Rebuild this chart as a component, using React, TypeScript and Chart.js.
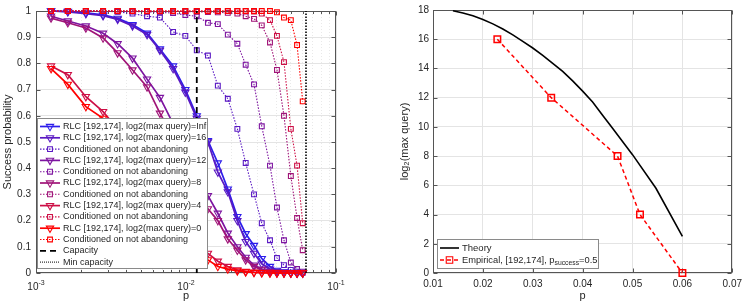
import React, { useEffect, useRef } from 'react';
import { Chart, registerables } from 'chart.js';

Chart.register(...registerables);

// ---------------- Left panel data ----------------
const P_GRID = [0.00126, 0.00163, 0.00215, 0.0028, 0.0035, 0.0044, 0.0055, 0.0067, 0.0082, 0.0099, 0.0118, 0.014, 0.0163, 0.019, 0.022, 0.025, 0.0284, 0.032, 0.0363, 0.0404, 0.045, 0.05, 0.055, 0.06];

const RLC_INF = [1.0, 0.998, 0.993, 0.985, 0.972, 0.948, 0.915, 0.855, 0.79, 0.7, 0.6, 0.505, 0.42, 0.32, 0.215, 0.15, 0.105, 0.055, 0.025, 0.01, 0.004, 0.002, 0.001, 0];
const RLC_16 = [1.0, 0.997, 0.99, 0.982, 0.968, 0.943, 0.91, 0.85, 0.78, 0.69, 0.59, 0.5, 0.385, 0.31, 0.2, 0.12, 0.075, 0.035, 0.015, 0.006, 0.003, 0.001, 0, 0];
const COND_16 = [1.0, 1.0, 1.0, 0.999, 0.997, 0.99, 0.98, 0.975, 0.92, 0.905, 0.85, 0.83, 0.715, 0.665, 0.55, 0.42, 0.3, 0.19, 0.125, 0.057, 0.03, 0.012, 0.005, 0.001];
const RLC_12 = [0.98, 0.962, 0.943, 0.915, 0.875, 0.82, 0.74, 0.67, 0.57, 0.475, 0.38, 0.295, 0.228, 0.152, 0.1, 0.06, 0.03, 0.015, 0.006, 0.002, 0.001, 0, 0, 0];
const COND_12 = [1.0, 1.0, 1.0, 1.0, 0.999, 0.998, 0.997, 0.995, 0.992, 0.985, 0.98, 0.955, 0.95, 0.91, 0.875, 0.795, 0.72, 0.56, 0.41, 0.25, 0.125, 0.04, 0.015, 0.005];
const RLC_8 = [0.973, 0.955, 0.935, 0.897, 0.84, 0.775, 0.71, 0.61, 0.52, 0.42, 0.33, 0.245, 0.2, 0.13, 0.087, 0.05, 0.025, 0.012, 0.005, 0.002, 0.001, 0, 0, 0];
const COND_8 = [1.0, 1.0, 1.0, 1.0, 1.0, 1.0, 0.999, 0.999, 0.998, 0.998, 0.997, 0.996, 0.995, 0.993, 0.99, 0.98, 0.97, 0.945, 0.88, 0.775, 0.6, 0.37, 0.21, 0.087];
const RLC_4 = [0.79, 0.757, 0.673, 0.616, 0.55, 0.47, 0.39, 0.31, 0.23, 0.17, 0.115, 0.075, 0.045, 0.025, 0.012, 0.006, 0.003, 0.001, 0, 0, 0, 0, 0, 0];
const COND_4 = [1.0, 1.0, 1.0, 1.0, 1.0, 1.0, 1.0, 1.0, 1.0, 1.0, 1.0, 1.0, 1.0, 1.0, 1.0, 1.0, 0.998, 0.99, 0.965, 0.905, 0.805, 0.55, 0.41, 0.19];
const RLC_0 = [0.78, 0.72, 0.635, 0.59, 0.52, 0.44, 0.36, 0.28, 0.2, 0.14, 0.09, 0.05, 0.025, 0.015, 0.008, 0.004, 0.002, 0.001, 0, 0, 0, 0, 0, 0];
const COND_0 = [1.0, 1.0, 1.0, 1.0, 1.0, 1.0, 1.0, 1.0, 1.0, 1.0, 1.0, 1.0, 1.0, 1.0, 1.0, 1.0, 1.0, 1.0, 1.0, 0.995, 0.975, 0.965, 0.87, 0.655];

const CAPACITY = 0.0118;
const MIN_CAPACITY = 0.0631;

const LEFT_LOG_TICKS = [0.001, 0.002, 0.003, 0.004, 0.005, 0.006, 0.007, 0.008, 0.009, 0.01, 0.02, 0.03, 0.04, 0.05, 0.06, 0.07, 0.08, 0.09, 0.1];
const LEFT_MAJOR_TICKS = [0.001, 0.01, 0.1];
const LEFT_MAJOR_EXPONENTS = ['-3', '-2', '-1'];

// ---------------- Right panel data ----------------
const THEORY_P = [0.014, 0.016, 0.018, 0.02, 0.022, 0.024, 0.026, 0.028, 0.03, 0.032, 0.034, 0.036, 0.038, 0.04, 0.042, 0.044, 0.046, 0.048, 0.05, 0.0547, 0.06];
const THEORY_Q = [17.95, 17.8, 17.6, 17.35, 17.05, 16.7, 16.3, 15.85, 15.4, 14.9, 14.35, 13.8, 13.15, 12.45, 11.7, 10.8, 9.9, 9.0, 8.1, 5.8, 2.5];
const EMP_P = [0.0229, 0.0337, 0.047, 0.0515, 0.06];
const EMP_Q = [16, 12, 8, 4, 0];

// ---------------- Styles ----------------
const FONT = '"Liberation Sans", Arial, Helvetica, sans-serif';
const TEXT = '#262626';
const AXIS = '#555555';
const GRID = '#e4e4e4';

const C_INF = 'rgb(45,30,235)';
const C_16 = 'rgb(90,25,195)';
const C_12 = 'rgb(125,20,160)';
const C_8 = 'rgb(160,20,120)';
const C_4 = 'rgb(205,15,70)';
const C_0 = 'rgb(255,0,0)';

const SERIES = [
  { label: 'RLC [192,174], log2(max query)=Inf', values: RLC_INF, color: C_INF, kind: 'rlc' },
  { label: 'RLC [192,174], log2(max query)=16', values: RLC_16, color: C_16, kind: 'rlc' },
  { label: 'Conditioned on not abandoning', values: COND_16, color: C_16, kind: 'cond' },
  { label: 'RLC [192,174], log2(max query)=12', values: RLC_12, color: C_12, kind: 'rlc' },
  { label: 'Conditioned on not abandoning', values: COND_12, color: C_12, kind: 'cond' },
  { label: 'RLC [192,174], log2(max query)=8', values: RLC_8, color: C_8, kind: 'rlc' },
  { label: 'Conditioned on not abandoning', values: COND_8, color: C_8, kind: 'cond' },
  { label: 'RLC [192,174], log2(max query)=4', values: RLC_4, color: C_4, kind: 'rlc' },
  { label: 'Conditioned on not abandoning', values: COND_4, color: C_4, kind: 'cond' },
  { label: 'RLC [192,174], log2(max query)=0', values: RLC_0, color: C_0, kind: 'rlc' },
  { label: 'Conditioned on not abandoning', values: COND_0, color: C_0, kind: 'cond' },
];

const RLC_STYLE = { width: 1.7, dash: [] as number[], marker: 'tri', r: 4.2 };
const COND_STYLE = { width: 1.1, dash: [1.5, 1.5], marker: 'sq', r: 3.4 };
const CAP_STYLE = { width: 1.8, dash: [6, 4] };
const MINCAP_STYLE = { width: 1.6, dash: [1.5, 1.5] };

function isMajor(v: number) {
  if (!(v > 0)) return false;
  const l = Math.log10(v);
  return Math.abs(l - Math.round(l)) < 1e-6;
}

function drawMarker(ctx: CanvasRenderingContext2D, kind: string, x: number, y: number, r: number, color: string, lw: number) {
  ctx.save();
  ctx.strokeStyle = color;
  ctx.lineWidth = lw;
  ctx.setLineDash([]);
  ctx.beginPath();
  if (kind === 'tri') {
    const s = Math.sin(Math.PI / 3) * r;
    ctx.moveTo(x, y + r);
    ctx.lineTo(x - s, y - r / 2);
    ctx.lineTo(x + s, y - r / 2);
    ctx.closePath();
  } else {
    const h = r * Math.SQRT1_2;
    ctx.rect(x - h, y - h, 2 * h, 2 * h);
  }
  ctx.stroke();
  ctx.restore();
}

type Part = { t: string; size: number; dy: number };
type LegendRow = { parts: Part[]; color: string; width: number; dash: number[]; marker?: string; r?: number };

function drawLegend(ctx: CanvasRenderingContext2D, box: { x: number; y: number; w: number; h: number }, rows: LegendRow[], opts: { y0: number; step: number; l0: number; l1: number; tx: number }) {
  ctx.save();
  ctx.fillStyle = '#ffffff';
  ctx.fillRect(box.x, box.y, box.w, box.h);
  ctx.strokeStyle = '#8a8a8a';
  ctx.lineWidth = 1;
  ctx.setLineDash([]);
  ctx.strokeRect(box.x + 0.5, box.y + 0.5, box.w - 1, box.h - 1);
  rows.forEach((row, i) => {
    const y = opts.y0 + i * opts.step;
    ctx.save();
    ctx.strokeStyle = row.color;
    ctx.lineWidth = row.width;
    ctx.setLineDash(row.dash);
    ctx.beginPath();
    ctx.moveTo(opts.l0, y);
    ctx.lineTo(opts.l1, y);
    ctx.stroke();
    ctx.restore();
    if (row.marker) drawMarker(ctx, row.marker, (opts.l0 + opts.l1) / 2, y, row.r || 3.5, row.color, 1.1);
    let x = opts.tx;
    ctx.fillStyle = TEXT;
    ctx.textAlign = 'left';
    ctx.textBaseline = 'middle';
    row.parts.forEach((p) => {
      ctx.font = `${p.size}px ${FONT}`;
      ctx.fillText(p.t, x, y + p.dy);
      x += ctx.measureText(p.t).width;
    });
  });
  ctx.restore();
}

const axesFramePlugin = {
  id: 'axesFrame',
  beforeDatasetsDraw(chart: any) {
    const { ctx, chartArea: a } = chart;
    const xs = chart.scales.x;
    const ys = chart.scales.y;
    const L = Math.round(a.left) + 0.5;
    const R = Math.round(a.right) - 0.5;
    const T = Math.round(a.top) + 0.5;
    const B = Math.round(a.bottom) - 0.5;
    ctx.save();
    ctx.strokeStyle = AXIS;
    ctx.lineWidth = 1;
    ctx.setLineDash([]);
    ctx.beginPath();
    xs.ticks.forEach((t: any) => {
      const px = Math.round(xs.getPixelForValue(t.value)) + 0.5;
      const len = xs.type === 'logarithmic' && !isMajor(t.value) ? 2.5 : 4;
      ctx.moveTo(px, B);
      ctx.lineTo(px, B - len);
      ctx.moveTo(px, T);
      ctx.lineTo(px, T + len);
    });
    ys.ticks.forEach((t: any) => {
      const py = Math.round(ys.getPixelForValue(t.value)) + 0.5;
      ctx.moveTo(L, py);
      ctx.lineTo(L + 4, py);
      ctx.moveTo(R, py);
      ctx.lineTo(R - 4, py);
    });
    ctx.stroke();
    ctx.strokeRect(L, T, R - L, B - T);
    ctx.restore();
  },
};

const leftOverlayPlugin = {
  id: 'leftOverlay',
  afterDraw(chart: any) {
    const { ctx, chartArea: a } = chart;
    const xs = chart.scales.x;
    // log tick labels 10^-n
    ctx.save();
    ctx.fillStyle = TEXT;
    ctx.textAlign = 'left';
    ctx.textBaseline = 'alphabetic';
    LEFT_MAJOR_TICKS.forEach((v, i) => {
      const px = xs.getPixelForValue(v);
      ctx.font = `10px ${FONT}`;
      const wb = ctx.measureText('10').width;
      ctx.font = `7px ${FONT}`;
      const we = ctx.measureText(LEFT_MAJOR_EXPONENTS[i]).width;
      const start = px - (wb + we) / 2;
      ctx.font = `10px ${FONT}`;
      ctx.fillText('10', start, a.bottom + 17);
      ctx.font = `7px ${FONT}`;
      ctx.fillText(LEFT_MAJOR_EXPONENTS[i], start + wb, a.bottom + 12);
    });
    ctx.restore();

    const rows: LegendRow[] = SERIES.map((s) => {
      const st = s.kind === 'rlc' ? RLC_STYLE : COND_STYLE;
      return { parts: [{ t: s.label, size: 9, dy: 0 }], color: s.color, width: st.width, dash: st.dash, marker: st.marker, r: st.r };
    });
    rows.push({ parts: [{ t: 'Capacity', size: 9, dy: 0 }], color: '#000', width: CAP_STYLE.width, dash: CAP_STYLE.dash });
    rows.push({ parts: [{ t: 'Min capacity', size: 9, dy: 0 }], color: '#000', width: 1, dash: [1, 1] });
    drawLegend(ctx, { x: 37, y: 118, w: 171, h: 151 }, rows, { y0: 126.5, step: 11.3, l0: 40, l1: 60, tx: 63 });
  },
};

const rightOverlayPlugin = {
  id: 'rightOverlay',
  afterDraw(chart: any) {
    const { ctx } = chart;
    const rows: LegendRow[] = [
      { parts: [{ t: 'Theory', size: 9.5, dy: 0 }], color: '#000', width: 1.6, dash: [] },
      {
        parts: [
          { t: 'Empirical, [192,174], p', size: 9.3, dy: 0 },
          { t: 'success', size: 6.8, dy: 3 },
          { t: '=0.5', size: 9.3, dy: 0 },
        ],
        color: 'rgb(255,0,0)', width: 1.5, dash: [4, 3], marker: 'sq', r: 4.6,
      },
    ];
    drawLegend(ctx, { x: 65, y: 239, w: 162, h: 30 }, rows, { y0: 248, step: 12, l0: 68, l1: 87, tx: 90 });
  },
};

function leftConfig(): any {
  const n = SERIES.length + 2;
  const datasets: any[] = SERIES.map((s, i) => {
    const st = s.kind === 'rlc' ? RLC_STYLE : COND_STYLE;
    return {
      label: s.label,
      data: P_GRID.map((p, k) => ({ x: p, y: s.values[k] })),
      borderColor: s.color,
      borderWidth: st.width,
      borderDash: st.dash,
      pointStyle: s.kind === 'rlc' ? 'triangle' : 'rect',
      rotation: s.kind === 'rlc' ? 180 : 0,
      pointRadius: st.r,
      pointBorderWidth: 1.1,
      pointBorderColor: s.color,
      pointBackgroundColor: 'rgba(0,0,0,0)',
      fill: false,
      tension: 0,
      clip: false,
      order: n - 1 - i,
    };
  });
  datasets.push({
    label: 'Capacity',
    data: [{ x: CAPACITY, y: 0 }, { x: CAPACITY, y: 1 }],
    borderColor: '#000', borderWidth: CAP_STYLE.width, borderDash: CAP_STYLE.dash,
    pointRadius: 0, fill: false, clip: false, order: 1,
  });
  datasets.push({
    label: 'Min capacity',
    data: [{ x: MIN_CAPACITY, y: 0 }, { x: MIN_CAPACITY, y: 1 }],
    borderColor: '#000', borderWidth: MINCAP_STYLE.width, borderDash: MINCAP_STYLE.dash,
    pointRadius: 0, fill: false, clip: false, order: 0,
  });

  return {
    type: 'line',
    data: { datasets },
    plugins: [axesFramePlugin, leftOverlayPlugin],
    options: {
      animation: false,
      responsive: false,
      maintainAspectRatio: false,
      events: [],
      layout: { padding: { left: 0, right: 36, top: 10, bottom: 0 } },
      plugins: { legend: { display: false }, tooltip: { enabled: false } },
      scales: {
        x: {
          type: 'logarithmic',
          min: 0.001,
          max: 0.1,
          afterBuildTicks: (s: any) => { s.ticks = LEFT_LOG_TICKS.map((v) => ({ value: v })); },
          afterFit: (s: any) => { s.height = 35; },
          ticks: { callback: () => '', autoSkip: false, maxRotation: 0, font: { family: FONT, size: 10 } },
          grid: {
            drawTicks: false,
            color: (c: any) => (c.tick && isMajor(c.tick.value) ? GRID : '#e9e9e9'),
          },
          border: { display: false, dash: (c: any) => (c.tick && isMajor(c.tick.value) ? [] : [1, 2]) },
          title: { display: true, text: 'p', color: TEXT, font: { family: FONT, size: 11 }, padding: { top: 0, bottom: 5 } },
        },
        y: {
          type: 'linear',
          min: 0,
          max: 1,
          afterFit: (s: any) => { s.width = 36; },
          ticks: {
            stepSize: 0.1,
            padding: 5,
            color: TEXT,
            font: { family: FONT, size: 10 },
            callback: (v: any) => (v === 0 ? '0' : Math.abs(v - 1) < 1e-9 ? '1' : Number(v).toFixed(1)),
          },
          grid: { drawTicks: false, color: GRID },
          border: { display: false },
          title: { display: true, text: 'Success probability', color: TEXT, font: { family: FONT, size: 11 }, padding: { top: 1, bottom: 0 } },
        },
      },
    },
  };
}

function rightConfig(): any {
  return {
    type: 'line',
    data: {
      datasets: [
        {
          label: 'Empirical, [192,174], p_success=0.5',
          data: EMP_P.map((p, i) => ({ x: p, y: EMP_Q[i] })),
          borderColor: 'rgb(255,0,0)', borderWidth: 1.5, borderDash: [4, 3],
          pointStyle: 'rect', pointRadius: 4.6, pointBorderWidth: 1.5,
          pointBorderColor: 'rgb(255,0,0)', pointBackgroundColor: 'rgba(0,0,0,0)',
          fill: false, tension: 0, clip: false, order: 0,
        },
        {
          label: 'Theory',
          data: THEORY_P.map((p, i) => ({ x: p, y: THEORY_Q[i] })),
          borderColor: '#000', borderWidth: 1.6, pointRadius: 0, fill: false, tension: 0, clip: false, order: 1,
        },
      ],
    },
    plugins: [axesFramePlugin, rightOverlayPlugin],
    options: {
      animation: false,
      responsive: false,
      maintainAspectRatio: false,
      events: [],
      layout: { padding: { left: 25, right: 12, top: 10, bottom: 0 } },
      plugins: { legend: { display: false }, tooltip: { enabled: false } },
      scales: {
        x: {
          type: 'linear',
          min: 0.01,
          max: 0.07,
          afterFit: (s: any) => { s.height = 35; },
          ticks: {
            stepSize: 0.01, padding: 5, color: TEXT, maxRotation: 0, autoSkip: false,
            font: { family: FONT, size: 10 },
            callback: (v: any) => Number(v).toFixed(2),
          },
          grid: { drawTicks: false, color: GRID },
          border: { display: false },
          title: { display: true, text: 'p', color: TEXT, font: { family: FONT, size: 11 }, padding: { top: 0, bottom: 5 } },
        },
        y: {
          type: 'linear',
          min: 0,
          max: 18,
          afterFit: (s: any) => { s.width = 36; },
          ticks: { stepSize: 2, padding: 4, color: TEXT, font: { family: FONT, size: 10 } },
          grid: { drawTicks: false, color: GRID },
          border: { display: false },
          title: { display: true, text: 'log₂(max query)', color: TEXT, font: { family: FONT, size: 11 }, padding: { top: 1, bottom: 0 } },
        },
      },
    },
  };
}

export default function App() {
  const leftRef = useRef<HTMLCanvasElement>(null);
  const rightRef = useRef<HTMLCanvasElement>(null);
  useEffect(() => {
    const left = new Chart(leftRef.current as HTMLCanvasElement, leftConfig());
    const right = new Chart(rightRef.current as HTMLCanvasElement, rightConfig());
    return () => {
      left.destroy();
      right.destroy();
    };
  }, []);
  return (
    <div style={{ position: 'absolute', left: 0, top: 0, width: 747, height: 308, background: '#ffffff' }}>
      <canvas ref={leftRef} width={372} height={308} style={{ position: 'absolute', left: 0, top: 0, width: 372, height: 308 }} />
      <canvas ref={rightRef} width={375} height={308} style={{ position: 'absolute', left: 372, top: 0, width: 375, height: 308 }} />
    </div>
  );
}
